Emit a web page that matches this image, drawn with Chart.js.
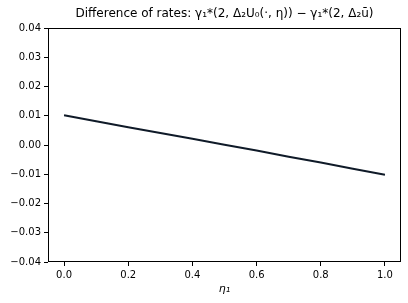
<!DOCTYPE html>
<html><head><meta charset="utf-8">
<script src="https://cdn.jsdelivr.net/npm/chart.js@4/dist/chart.umd.min.js"></script>
<style>html,body{margin:0;padding:0;background:#fff}#wrap{width:408px;height:303px}</style>
</head><body><div id="wrap"><canvas id="c" width="408" height="303"></canvas></div>
<script>
const etaValues = [0.0, 0.1, 0.2, 0.3, 0.4, 0.5, 0.6, 0.7, 0.8, 0.9, 1.0];
const rateDiff = [0.0102, 0.0081, 0.0061, 0.0041, 0.0021, 0.0001, -0.0019, -0.0040, -0.0060, -0.0081, -0.0102];
const xTicks = [0.0, 0.2, 0.4, 0.6, 0.8, 1.0];
const yTicks = [-0.04, -0.03, -0.02, -0.01, 0.00, 0.01, 0.02, 0.03, 0.04];
const titleText = 'Difference of rates: γ\u2081*(2, Δ\u2082U\u2080(·, η)) − γ\u2081*(2, Δ\u2082ū)';
const xLabel = 'η\u2081';

const boxPlugin = {
  id: 'box',
  afterDraw(chart) {
    const a = chart.chartArea, ctx = chart.ctx;
    ctx.save(); ctx.strokeStyle = '#000'; ctx.lineWidth = 1;
    ctx.strokeRect(Math.round(a.left)+0.5, Math.round(a.top)+0.5, Math.round(a.right-a.left)-1, Math.round(a.bottom-a.top)-1);
    ctx.fillStyle = '#000';
    ctx.font = '12px "DejaVu Sans"';
    ctx.textAlign = 'center'; ctx.textBaseline = 'middle';
    ctx.fillText(titleText, (a.left + a.right) / 2, 14);
    ctx.restore();
  }
};

new Chart(document.getElementById('c'), {
  type: 'line',
  data: {
    datasets: [{
      data: etaValues.map((x,i)=>({x:x, y:rateDiff[i]})),
      borderColor: '#0f1a28', borderWidth: 2, pointRadius: 0, tension: 0, fill: false
    }]
  },
  options: {
    responsive: false, animation: false, devicePixelRatio: 1,
    layout: { padding: { left: 0, right: 7, top: 28, bottom: 0 } },
    plugins: {
      legend: { display: false }, tooltip: { enabled: false }, title: { display: false }
    },
    scales: {
      x: {
        type: 'linear', min: -0.05, max: 1.05,
        afterBuildTicks: s => { s.ticks = xTicks.map(v=>({value:v})); },
        afterFit: s => { s.height = 41; },
        ticks: { color: '#000', font: { family: 'DejaVu Sans', size: 10 }, padding: 3, maxRotation: 0,
          callback: v => (v < 0 ? '\u2212' : '') + Math.abs(v).toFixed(1) },
        grid: { drawOnChartArea: false, drawTicks: true, tickLength: 4, color: '#000' },
        border: { display: false },
        title: { display: true, text: xLabel, color: '#000', font: { family: 'DejaVu Sans', size: 11, style: 'italic' }, padding: { top: 2, bottom: 7 } }
      },
      y: {
        type: 'linear', min: -0.04, max: 0.04,
        afterBuildTicks: s => { s.ticks = yTicks.map(v=>({value:v})); },
        afterFit: s => { s.width = 48; },
        ticks: { color: '#000', font: { family: 'DejaVu Sans', size: 10 }, padding: 3,
          callback: v => { const r = Math.round(v*100)/100; return (r < 0 ? '\u2212' : '') + Math.abs(r).toFixed(2); } },
        grid: { drawOnChartArea: false, drawTicks: true, tickLength: 4, color: '#000' },
        border: { display: false }
      }
    }
  },
  plugins: [boxPlugin]
});
</script></body></html>
